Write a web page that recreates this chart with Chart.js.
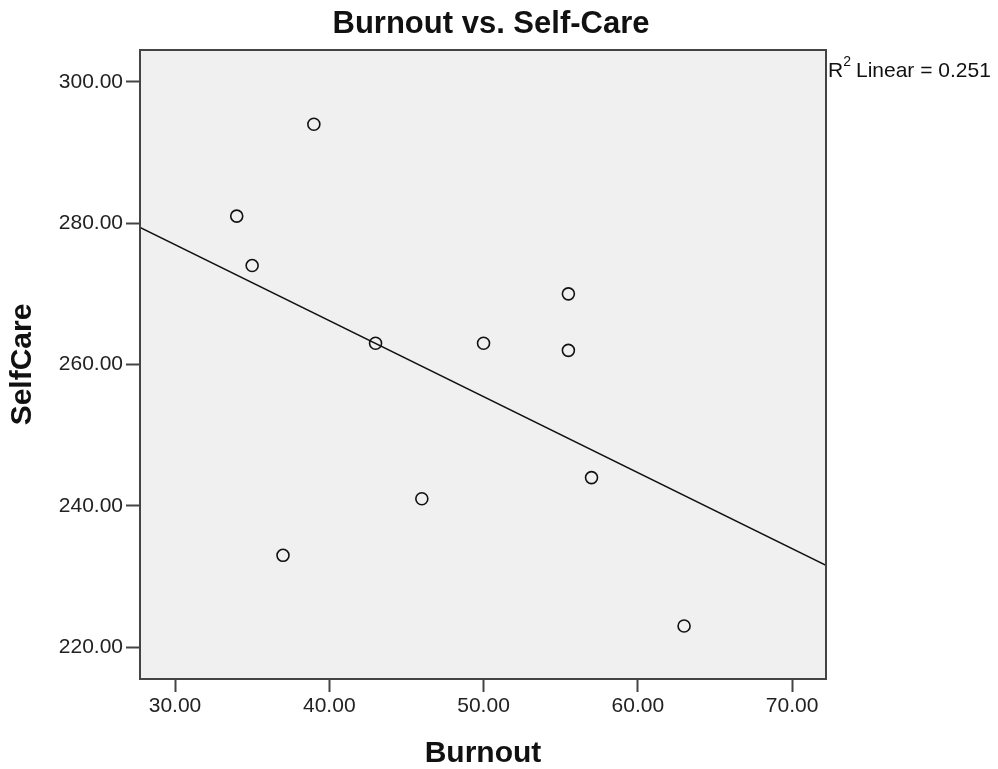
<!DOCTYPE html>
<html>
<head>
<meta charset="utf-8">
<script src="https://cdn.jsdelivr.net/npm/chart.js@4.4.1/dist/chart.umd.min.js"></script>
<style>
  html, body { margin: 0; padding: 0; background: #fff; }
  #wrap { width: 998px; height: 769px; position: relative; }
</style>
</head>
<body>
<div id="wrap"><canvas id="scatterChart"></canvas></div>
<script>
// data
const burnout = [34, 39, 35, 43, 50, 55.5, 55.5, 57, 46, 37, 63];
const selfCare = [281, 294, 274, 263, 263, 270, 262, 244, 241, 233, 223];

// fit line end points (at the plot edges)
const fitX = [27.73, 72.2];
const fitY = [279.4, 231.6];

const xTicks = [30, 40, 50, 60, 70];
const yTicks = [220, 240, 260, 280, 300];

const chartTitle = 'Burnout vs. Self-Care';
const fitLabel = 'Linear = 0.251';

const points = burnout.map((b, i) => ({ x: b, y: selfCare[i] }));
const fitLine = fitX.map((x, i) => ({ x: x, y: fitY[i] }));

const fontFamily = '"Liberation Sans", Arial, sans-serif';

// plot background, box border, title and R2 label
const boxPlugin = {
    id: 'boxPlugin',
    beforeDatasetsDraw(chart) {
        const { ctx, chartArea: a } = chart;
        ctx.save();
        ctx.fillStyle = '#f0f0f0';
        ctx.fillRect(a.left, a.top, a.right - a.left, a.bottom - a.top);
        ctx.restore();
    },
    afterDraw(chart) {
        const { ctx, chartArea: a } = chart;
        ctx.save();
        ctx.strokeStyle = '#444';
        ctx.lineWidth = 2;
        ctx.strokeRect(a.left, a.top, a.right - a.left, a.bottom - a.top);

        ctx.fillStyle = '#111';
        ctx.font = 'bold 31px ' + fontFamily;
        ctx.textAlign = 'center';
        ctx.textBaseline = 'middle';
        ctx.fillText(chartTitle, 491, 24);

        // R² Linear = 0.251
        ctx.textAlign = 'left';
        ctx.textBaseline = 'alphabetic';
        ctx.font = '21px ' + fontFamily;
        let x = a.right + 2;
        const y = 77;
        ctx.fillText('R', x, y);
        x += ctx.measureText('R').width;
        ctx.font = '14px ' + fontFamily;
        ctx.fillText('2', x, y - 11);
        x += ctx.measureText('2').width + 5;
        ctx.font = '21px ' + fontFamily;
        ctx.fillText(fitLabel, x, y);
        ctx.restore();
    }
};

const tickFont = { family: fontFamily, size: 21 };
const titleFont = { family: fontFamily, size: 30, weight: 'bold', lineHeight: 1 };

const ctx = document.getElementById('scatterChart').getContext('2d');
const scatterChart = new Chart(ctx, {
    type: 'scatter',
    data: {
        datasets: [
            {
                label: 'SelfCare',
                data: points,
                pointStyle: 'circle',
                pointRadius: 6,
                pointBorderWidth: 1.6,
                borderColor: '#111',
                backgroundColor: 'rgba(0,0,0,0)',
                pointHoverRadius: 6
            },
            {
                label: 'Fit',
                type: 'line',
                data: fitLine,
                borderColor: '#111',
                borderWidth: 1.5,
                pointRadius: 0,
                fill: false,
                tension: 0
            }
        ]
    },
    options: {
        responsive: true,
        maintainAspectRatio: false,
        animation: false,
        events: [],
        layout: {
            padding: { left: 0, right: 172, top: 50, bottom: 0 }
        },
        plugins: {
            legend: { display: false },
            tooltip: { enabled: false },
            title: { display: false }
        },
        scales: {
            x: {
                type: 'linear',
                min: 27.73,
                max: 72.2,
                afterBuildTicks(scale) {
                    scale.ticks = xTicks.map(v => ({ value: v }));
                },
                afterFit(scale) {
                    scale.height = 90;
                },
                grid: {
                    drawOnChartArea: false,
                    drawTicks: true,
                    tickLength: 13,
                    tickWidth: 2,
                    tickColor: '#444'
                },
                border: { display: true, color: '#444', width: 2 },
                ticks: {
                    color: '#222',
                    font: tickFont,
                    padding: 2,
                    maxRotation: 0,
                    callback: v => Number(v).toFixed(2)
                },
                title: {
                    display: true,
                    text: 'Burnout',
                    color: '#111',
                    font: titleFont,
                    padding: { top: 0, bottom: 0 }
                }
            },
            y: {
                type: 'linear',
                min: 215.5,
                max: 304.5,
                afterBuildTicks(scale) {
                    scale.ticks = yTicks.map(v => ({ value: v }));
                },
                afterFit(scale) {
                    scale.width = 140;
                },
                grid: {
                    drawOnChartArea: false,
                    drawTicks: true,
                    tickLength: 14,
                    tickWidth: 2,
                    tickColor: '#444'
                },
                border: { display: true, color: '#444', width: 2 },
                ticks: {
                    color: '#222',
                    font: tickFont,
                    padding: 3,
                    callback: v => Number(v).toFixed(2)
                },
                title: {
                    display: true,
                    text: 'SelfCare',
                    color: '#111',
                    font: titleFont,
                    padding: { top: 8, bottom: 0 }
                }
            }
        }
    },
    plugins: [boxPlugin]
});
</script>
</body>
</html>
